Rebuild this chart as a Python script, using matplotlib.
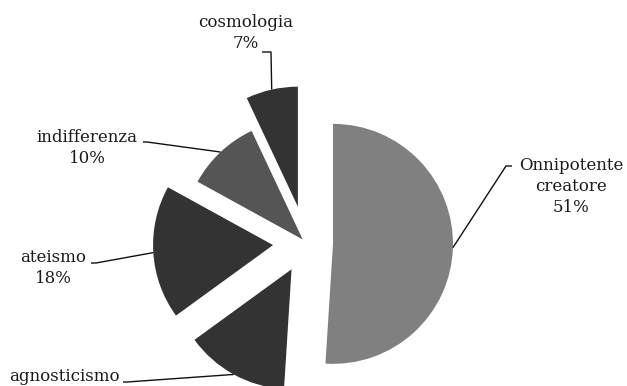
import numpy as np
import matplotlib.pyplot as plt

# data
labels = ['Onnipotente\ncreatore', 'agnosticismo', 'ateismo', 'indifferenza', 'cosmologia']
percent = [51, 14, 18, 10, 7]
colors = ['#808080', '#333333', '#333333', '#555555', '#333333']
explode = [0.225, 0.25, 0.275, 0.04, 0.31]

# layout, in pixels from the top-left corner
W, H = 627, 386
R = 120            # pie radius
CX, CY = 306, 243  # pie centre
# centre x and baseline of the last line of each label
label_pos = [(571, 212), (64, 402), (53, 283), (87, 163), (246, 48)]
leader_pts = [[(512, 166), (506, 166)],
              [(123, 382), (127, 382)],
              [(91, 263), (96, 263)],
              [(143, 142), (147, 142)],
              [(262, 52), (271, 52)]]


def px(x, y):
    # pixel position -> data coords (pie radius = 1)
    return (x - CX) / R, (CY - y) / R


fig = plt.figure(figsize=(W / 100, H / 100), dpi=100)
ax = fig.add_axes([0, 0, 1, 1])
wedges, _ = ax.pie(percent, explode=explode, colors=colors, startangle=90,
                   counterclock=False, radius=1, wedgeprops=dict(linewidth=0))
ax.set_aspect('auto')
ax.set_xlim(-CX / R, (W - CX) / R)
ax.set_ylim(-(H - CY) / R, CY / R)
ax.axis('off')

for w, lab, p, pos, pts in zip(wedges, labels, percent, label_pos, leader_pts):
    # leader line from the middle of the arc to the label
    tm = np.deg2rad((w.theta1 + w.theta2) / 2)
    ax_, ay_ = w.center[0] + w.r * np.cos(tm), w.center[1] + w.r * np.sin(tm)
    xs = [px(*q)[0] for q in pts] + [ax_]
    ys = [px(*q)[1] for q in pts] + [ay_]
    ax.plot(xs, ys, color='#111111', lw=1.0, solid_capstyle='butt')

    tx, ty = px(*pos)
    ax.text(tx, ty, f'{lab}\n{p}%', ha='center', va='baseline', fontsize=12,
            family='DejaVu Serif', color='#1a1a1a', linespacing=1.3)

fig.savefig('out.png', dpi=100, facecolor='white')
